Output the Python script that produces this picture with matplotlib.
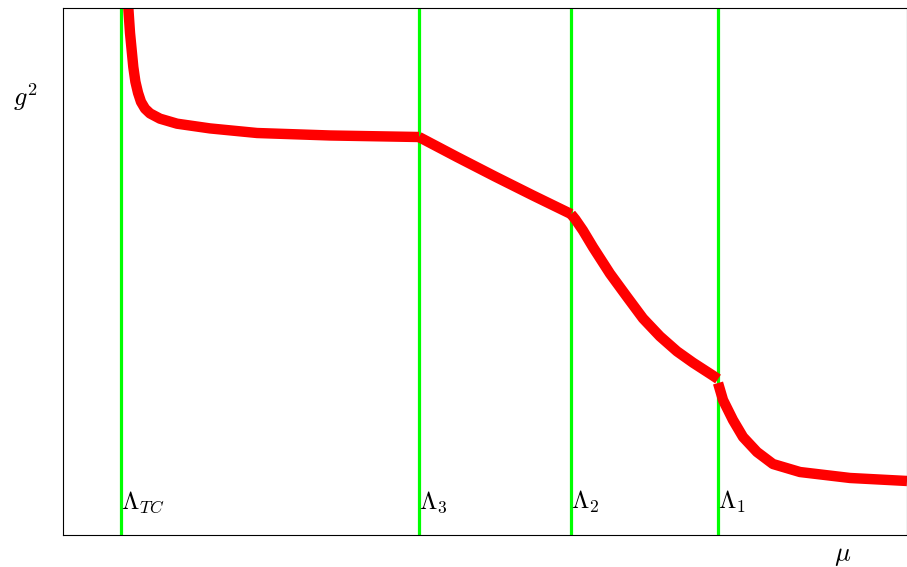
import matplotlib.pyplot as plt

plt.rcParams['mathtext.fontset'] = 'cm'

# scale positions (axis units 0..100)
scale_x = [6.9, 42.2, 60.2, 77.6]
scale_labels = [r'$\Lambda_{TC}$', r'$\Lambda_3$', r'$\Lambda_2$', r'$\Lambda_1$']

# running coupling, one piece per regime
seg1_x = [7.74, 7.94, 8.33, 8.58, 8.89, 9.24, 9.72, 10.31, 11.49, 13.51, 17.42, 22.99, 31.64, 42.18]
seg1_y = [100.0, 95.26, 88.80, 86.0, 83.9, 82.2, 80.9, 80.0, 79.0, 78.05, 77.15, 76.28, 75.81, 75.52]
seg2_x = [42.18, 46.68, 51.18, 55.69, 60.19]
seg2_y = [75.52, 71.73, 68.03, 64.42, 60.91]
seg3_x = [60.19, 60.70, 61.60, 62.80, 64.81, 66.82, 68.72, 70.73, 72.75, 74.64, 76.90, 77.61]
seg3_y = [60.91, 59.90, 57.80, 54.60, 49.60, 45.20, 41.10, 37.70, 34.85, 32.70, 30.36, 29.60]
seg4_x = [77.61, 78.20, 79.38, 80.57, 82.23, 84.12, 87.32, 93.25, 100.0]
seg4_y = [28.84, 25.62, 21.82, 18.60, 15.75, 13.47, 11.95, 10.82, 10.25]

fig = plt.figure(figsize=(9.07, 5.67), dpi=100)
ax = fig.add_axes([63 / 907, 1 - 535 / 567, 1 - 63 / 907, 527 / 567])

for xv in scale_x:
    ax.axvline(xv, color='#00ff00', lw=2.3, zorder=1)

for xs, ys in [(seg1_x, seg1_y), (seg2_x, seg2_y), (seg3_x, seg3_y), (seg4_x, seg4_y)]:
    ax.plot(xs, ys, color='#ff0000', lw=7.5, solid_capstyle='butt',
            solid_joinstyle='round', zorder=2)

for xv, lab in zip(scale_x, scale_labels):
    ax.text(xv, 3.8, lab, fontsize=18, ha='left', va='bottom')

ax.set_xlim(0, 100)
ax.set_ylim(0, 100)
ax.set_xticks([])
ax.set_yticks([])
for s in ax.spines.values():
    s.set_linewidth(0.8)

fig.text(25 / 907, 1 - 97 / 567, r'$g^2$', fontsize=19, ha='center', va='center')
fig.text(843 / 907, 1 - 555 / 567, r'$\mu$', fontsize=19, ha='center', va='center')

fig.savefig('out.png', dpi=100)
